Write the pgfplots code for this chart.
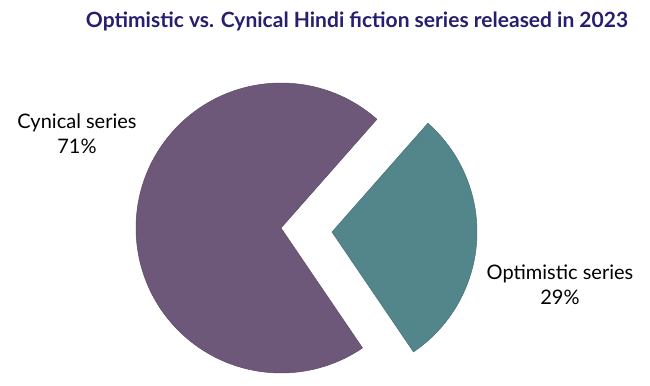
\documentclass[border=0pt]{standalone}
\usepackage{pgfplots}
\pgfplotsset{compat=1.18}
\usepackage{fontspec}
\setmainfont{Lato}
\definecolor{cyn}{RGB}{110,88,122}
\definecolor{opt}{RGB}{82,134,139}
\definecolor{titlec}{RGB}{38,30,110}
\begin{document}
\begin{tikzpicture}
\begin{axis}[x=1pt,y=1pt,xmin=0,xmax=650,ymin=0,ymax=383,hide axis,scale only axis,clip=false]
\def\optval{29}
\def\cynval{71}
\pgfmathsetmacro{\st}{-55.8}
\pgfmathsetmacro{\md}{\st+3.6*\optval}
\pgfmathsetmacro{\en}{\md+3.6*\cynval}
\path (axis cs:0,0) rectangle (axis cs:650,383);
\fill[opt,draw=opt!85!black,line width=0.5pt] (axis cs:332,151) -- ++(\st:145pt) arc[start angle=\st,end angle=\md,radius=145pt] -- cycle;
\fill[cyn,draw=cyn!85!black,line width=0.5pt] (axis cs:281,155) -- ++(\md:145pt) arc[start angle=\md,end angle=\en,radius=145pt] -- cycle;
\node[font=\fontsize{21}{25}\selectfont\bfseries,text=titlec] at (axis cs:357,362) {Optimistic vs. Cynical Hindi fiction series released in 2023};
\node[font=\fontsize{20}{24}\selectfont] at (axis cs:77,260) {Cynical series};
\node[font=\fontsize{20}{24}\selectfont] at (axis cs:77,237) {\cynval\%};
\node[font=\fontsize{20}{24}\selectfont] at (axis cs:560,109) {Optimistic series};
\node[font=\fontsize{20}{24}\selectfont] at (axis cs:560,86) {\optval\%};
\end{axis}
\end{tikzpicture}
\end{document}
